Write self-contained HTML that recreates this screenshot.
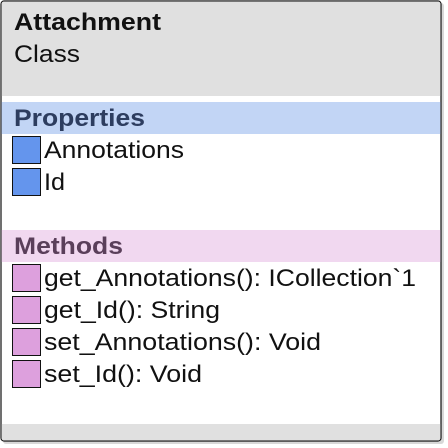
<!DOCTYPE html>
<html><head><meta charset="utf-8"><style>
html,body{margin:0;padding:0;background:#fff;width:448px;height:448px;overflow:hidden}
text{font-family:"Liberation Sans",Arial,sans-serif;font-size:24px}
</style></head><body>
<svg width="448" height="448" viewBox="0 0 448 448">
<rect x="3" y="3" width="441" height="441" rx="3" fill="#d8d8d8"/>
<rect x="1" y="1" width="440" height="440" rx="3" fill="#fff" stroke="#111" stroke-width="1.2"/>
<path d="M1.6 96 V4 Q1.6 1.6 4 1.6 H438 Q440.4 1.6 440.4 4 V96 Z" fill="#e0e0e0"/>
<rect x="1.6" y="102" width="438.8" height="32" fill="#c2d5f5"/>
<rect x="1.6" y="230" width="438.8" height="32" fill="#f1d8f0"/>
<path d="M1.6 424 H440.4 V438 Q440.4 440.4 438 440.4 H4 Q1.6 440.4 1.6 438 Z" fill="#e0e0e0"/>
<text x="14" y="30" font-weight="bold" fill="#111" textLength="147" lengthAdjust="spacingAndGlyphs">Attachment</text>
<text x="14" y="62" fill="#111" textLength="66" lengthAdjust="spacingAndGlyphs">Class</text>
<text x="14" y="126" font-weight="bold" fill="#2d3d5f" textLength="131" lengthAdjust="spacingAndGlyphs">Properties</text>
<text x="14" y="254" font-weight="bold" fill="#5a3f5a" textLength="109" lengthAdjust="spacingAndGlyphs">Methods</text>
<g stroke="#111" stroke-width="1" fill="#6495ed">
<rect x="12.5" y="136.5" width="28" height="27"/>
<rect x="12.5" y="168.5" width="28" height="27"/>
</g>
<g stroke="#111" stroke-width="1" fill="#dda0dd">
<rect x="12.5" y="264.5" width="28" height="27"/>
<rect x="12.5" y="296.5" width="28" height="27"/>
<rect x="12.5" y="328.5" width="28" height="27"/>
<rect x="12.5" y="360.5" width="28" height="27"/>
</g>
<g fill="#111">
<text x="44" y="158" textLength="140" lengthAdjust="spacingAndGlyphs">Annotations</text>
<text x="44" y="190" textLength="21" lengthAdjust="spacingAndGlyphs">Id</text>
<text x="44" y="286" textLength="372" lengthAdjust="spacingAndGlyphs">get_Annotations(): ICollection`1</text>
<text x="44" y="318" textLength="176" lengthAdjust="spacingAndGlyphs">get_Id(): String</text>
<text x="44" y="350" textLength="277" lengthAdjust="spacingAndGlyphs">set_Annotations(): Void</text>
<text x="44" y="382" textLength="158" lengthAdjust="spacingAndGlyphs">set_Id(): Void</text>
</g>
</svg>
</body></html>
